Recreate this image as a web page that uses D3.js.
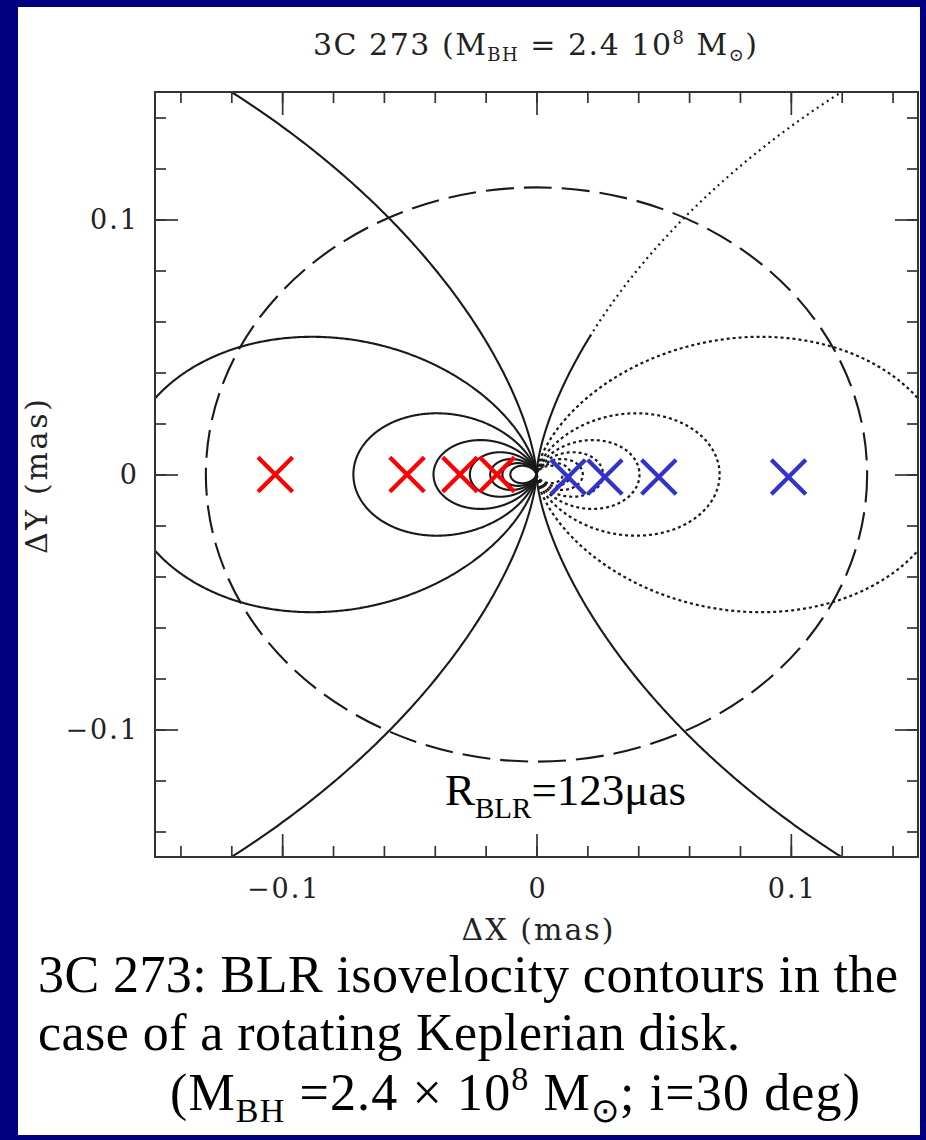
<!DOCTYPE html>
<html><head><meta charset="utf-8">
<script src="https://cdn.jsdelivr.net/npm/d3@7"></script>
<style>
html,body{margin:0;padding:0;background:#000080;}
svg{display:block;}
</style>
</head><body>
<svg id="chart" width="926" height="1140"></svg>
<script>
// ---------------- data ----------------
// isovelocity contours: distance (mas) at which each contour crosses the ΔX axis
const contourRadii = [0.65, 0.162, 0.072, 0.0405, 0.0262, 0.0182, 0.0134, 0.0103];
const inclinationDeg = 30;
const blrEllipseRadius = 0.13;          // mas, dashed BLR ring (face-on radius)
const redMarkersX = [-0.1027, -0.0509, -0.0301, -0.0155];
const redMarkersY = [0, 0, 0, 0];
const blueMarkersX = [0.0124, 0.0269, 0.0481, 0.0991];
const blueMarkersY = [-0.001, -0.001, -0.001, -0.001];
const minorTicks = [-0.14,-0.12,-0.1,-0.08,-0.06,-0.04,-0.02,0,0.02,0.04,0.06,0.08,0.1,0.12,0.14];
const majorTicks = [-0.1, 0, 0.1];
const xTickLabels = ["\u22120.1", "0", "0.1"];
const yTickLabels = ["\u22120.1", "0", "0.1"];
const axisDomain = [-0.15, 0.15];

// ---------------- setup ----------------
const svg = d3.select("#chart");
const x = d3.scaleLinear().domain(axisDomain).range([155, 918]);
const y = d3.scaleLinear().domain(axisDomain).range([857, 92]);
const cosI = Math.cos(inclinationDeg * Math.PI / 180);
const ink = "#1a1a1a";

// white slide area
svg.append("rect").attr("x", 18).attr("y", 7).attr("width", 902).attr("height", 1128).attr("fill", "#fff");

// clip for plot
svg.append("defs").append("clipPath").attr("id", "plotclip")
  .append("rect").attr("x", x(-0.15)).attr("y", y(0.15))
  .attr("width", x(0.15) - x(-0.15)).attr("height", y(-0.15) - y(0.15));

const plot = svg.append("g").attr("clip-path", "url(#plotclip)");
const line = d3.line().x(d => x(d[0])).y(d => y(d[1]));

// Keplerian isovelocity curve: r = R cos^2(phi) in disk plane, projected with cos i
function contourBranch(R, side, phiFrom, phiTo, filter) {
  const n = 900, pts = [];
  for (let j = 0; j <= n; j++) {
    const p = phiFrom + (phiTo - phiFrom) * j / n;
    const c = Math.cos(p), s = Math.sin(p);
    const pt = [side * R * c * c * c, R * c * c * s * cosI];
    if (!filter || filter(pt)) pts.push(pt);
  }
  return pts;
}
const H = Math.PI / 2;
const solidW = 2.1;

contourRadii.forEach((R, k) => {
  // left side: solid
  plot.append("path").attr("d", line(contourBranch(R, -1, -H, H)))
    .attr("fill", "none").attr("stroke", ink).attr("stroke-width", solidW);
  // right side: dotted
  if (k === 0) {
    // outermost right curve: lower branch and inner part of upper branch appear solid
    plot.append("path").attr("d", line(contourBranch(R, 1, -H, 0, p => p[0] < 0.16)))
      .attr("fill", "none").attr("stroke", ink).attr("stroke-width", solidW);
    plot.append("path").attr("d", line(contourBranch(R, 1, 0, H, p => p[0] <= 0.0215)))
      .attr("fill", "none").attr("stroke", ink).attr("stroke-width", solidW);
    plot.append("path").attr("d", line(contourBranch(R, 1, 0, H, p => p[0] >= 0.021 && p[0] < 0.16)))
      .attr("fill", "none").attr("stroke", ink).attr("stroke-width", 2.2)
      .attr("stroke-dasharray", "2,4");
  } else {
    plot.append("path").attr("d", line(contourBranch(R, 1, -H, H)))
      .attr("fill", "none").attr("stroke", ink).attr("stroke-width", 2.2)
      .attr("stroke-dasharray", "3,3");
  }
});

// dashed BLR ellipse
plot.append("ellipse").attr("cx", x(0)).attr("cy", y(0))
  .attr("rx", x(blrEllipseRadius) - x(0)).attr("ry", y(0) - y(blrEllipseRadius * cosI))
  .attr("fill", "none").attr("stroke", ink).attr("stroke-width", 2.1)
  .attr("stroke-dasharray", "28,10");

// markers
const xSym = d3.symbol().type(d3.symbolX).size(780);
svg.append("g").selectAll("path").data(redMarkersX.map((v, i) => [v, redMarkersY[i]])).join("path")
  .attr("transform", d => `translate(${x(d[0])},${y(d[1])})`)
  .attr("d", xSym).attr("stroke", "#ff0000").attr("stroke-width", 4.2).attr("fill", "none");
svg.append("g").selectAll("path").data(blueMarkersX.map((v, i) => [v, blueMarkersY[i]])).join("path")
  .attr("transform", d => `translate(${x(d[0])},${y(d[1])})`)
  .attr("d", xSym).attr("stroke", "#3333cc").attr("stroke-width", 4.2).attr("fill", "none");

// frame
svg.append("rect").attr("x", x(-0.15)).attr("y", y(0.15))
  .attr("width", x(0.15) - x(-0.15)).attr("height", y(-0.15) - y(0.15))
  .attr("fill", "none").attr("stroke", "#333").attr("stroke-width", 2);

// axes (inward ticks on all four sides)
function styleAxis(g) { g.select(".domain").remove(); g.selectAll("line").attr("stroke", "#333").attr("stroke-width", 1.7); }
const minorLen = 11, majorLen = 23;
svg.append("g").attr("transform", `translate(0,${y(-0.15)})`)
  .call(d3.axisBottom(x).tickValues(minorTicks).tickSize(-minorLen).tickFormat("")).call(styleAxis);
svg.append("g").attr("transform", `translate(0,${y(0.15)})`)
  .call(d3.axisTop(x).tickValues(minorTicks).tickSize(-minorLen).tickFormat("")).call(styleAxis);
svg.append("g").attr("transform", `translate(${x(-0.15)},0)`)
  .call(d3.axisLeft(y).tickValues(minorTicks).tickSize(-minorLen).tickFormat("")).call(styleAxis);
svg.append("g").attr("transform", `translate(${x(0.15)},0)`)
  .call(d3.axisRight(y).tickValues(minorTicks).tickSize(-minorLen).tickFormat("")).call(styleAxis);

const labFont = "'DejaVu Serif', serif";
const xb = svg.append("g").attr("transform", `translate(0,${y(-0.15)})`)
  .call(d3.axisBottom(x).tickValues(majorTicks).tickSize(-majorLen).tickPadding(22)
    .tickFormat((d, i) => xTickLabels[i])).call(styleAxis);
xb.selectAll("text").attr("font-family", labFont).attr("font-size", 27).attr("fill", "#222")
  .attr("letter-spacing", 2).attr("dx", 1);
svg.append("g").attr("transform", `translate(0,${y(0.15)})`)
  .call(d3.axisTop(x).tickValues(majorTicks).tickSize(-majorLen).tickFormat("")).call(styleAxis);
const yl = svg.append("g").attr("transform", `translate(${x(-0.15)},0)`)
  .call(d3.axisLeft(y).tickValues(majorTicks).tickSize(-majorLen).tickPadding(16)
    .tickFormat((d, i) => yTickLabels[i])).call(styleAxis);
yl.selectAll("text").attr("font-family", labFont).attr("font-size", 27).attr("fill", "#222").attr("letter-spacing", 2);
svg.append("g").attr("transform", `translate(${x(0.15)},0)`)
  .call(d3.axisRight(y).tickValues(majorTicks).tickSize(-majorLen).tickFormat("")).call(styleAxis);

// axis titles
svg.append("text").attr("x", x(0) + 1).attr("y", 940).attr("text-anchor", "middle")
  .attr("font-family", labFont).attr("font-size", 30).attr("fill", "#222")
  .attr("textLength", 152).attr("lengthAdjust", "spacing").text("\u0394X (mas)");
svg.append("text").attr("transform", `translate(47,${y(0) + 2}) rotate(-90)`).attr("text-anchor", "middle")
  .attr("font-family", labFont).attr("font-size", 30).attr("fill", "#222")
  .attr("textLength", 155).attr("lengthAdjust", "spacing").text("\u0394Y (mas)");

// plot title
const t = svg.append("text").attr("x", 535).attr("y", 55).attr("text-anchor", "middle")
  .attr("font-family", labFont).attr("font-size", 30).attr("fill", "#222")
  .attr("textLength", 444).attr("lengthAdjust", "spacing");
t.append("tspan").text("3C 273 (M");
t.append("tspan").attr("font-size", 18).attr("dy", 6).text("BH");
t.append("tspan").attr("dy", -6).text(" = 2.4 10");
t.append("tspan").attr("font-size", 18).attr("dy", -11).text("8");
t.append("tspan").attr("dy", 11).text(" M");
t.append("tspan").attr("font-size", 18).attr("dy", 6).text("\u2299");
t.append("tspan").attr("dy", -6).text(")");

// R_BLR annotation
const serif = "'Liberation Serif', 'Times New Roman', serif";
const r = svg.append("text").attr("x", 445).attr("y", 805).attr("font-family", serif).attr("font-size", 45).attr("fill", "#000");
r.append("tspan").text("R");
r.append("tspan").attr("font-size", 29).attr("dy", 13).text("BLR");
r.append("tspan").attr("dy", -13).text("=123\u03bcas");

// caption
const cap = svg.append("g").attr("font-family", serif).attr("font-size", 52).attr("fill", "#000");
cap.append("text").attr("x", 38).attr("y", 992).attr("textLength", 860).attr("lengthAdjust", "spacing")
  .text("3C 273: BLR isovelocity contours in the");
cap.append("text").attr("x", 38).attr("y", 1050).attr("textLength", 702).attr("lengthAdjust", "spacing")
  .text("case of a rotating Keplerian disk.");
const c3 = cap.append("text").attr("x", 170).attr("y", 1110).attr("textLength", 690).attr("lengthAdjust", "spacing");
c3.append("tspan").text("(M");
c3.append("tspan").attr("font-size", 34).attr("dy", 12).text("BH");
c3.append("tspan").attr("dy", -12).text(" =2.4 \u00d7 10");
c3.append("tspan").attr("font-size", 34).attr("dy", -20).text("8");
c3.append("tspan").attr("dy", 20).text(" M");
c3.append("tspan").attr("font-size", 34).attr("dy", 12).text("\u2299");
c3.append("tspan").attr("dy", -12).text("; i=30 deg)");

// navy strip overlapping the ΔY label, as in the slide
svg.append("rect").attr("x", 0).attr("y", 0).attr("width", 18).attr("height", 1140).attr("fill", "#000080");
</script>
</body></html>
